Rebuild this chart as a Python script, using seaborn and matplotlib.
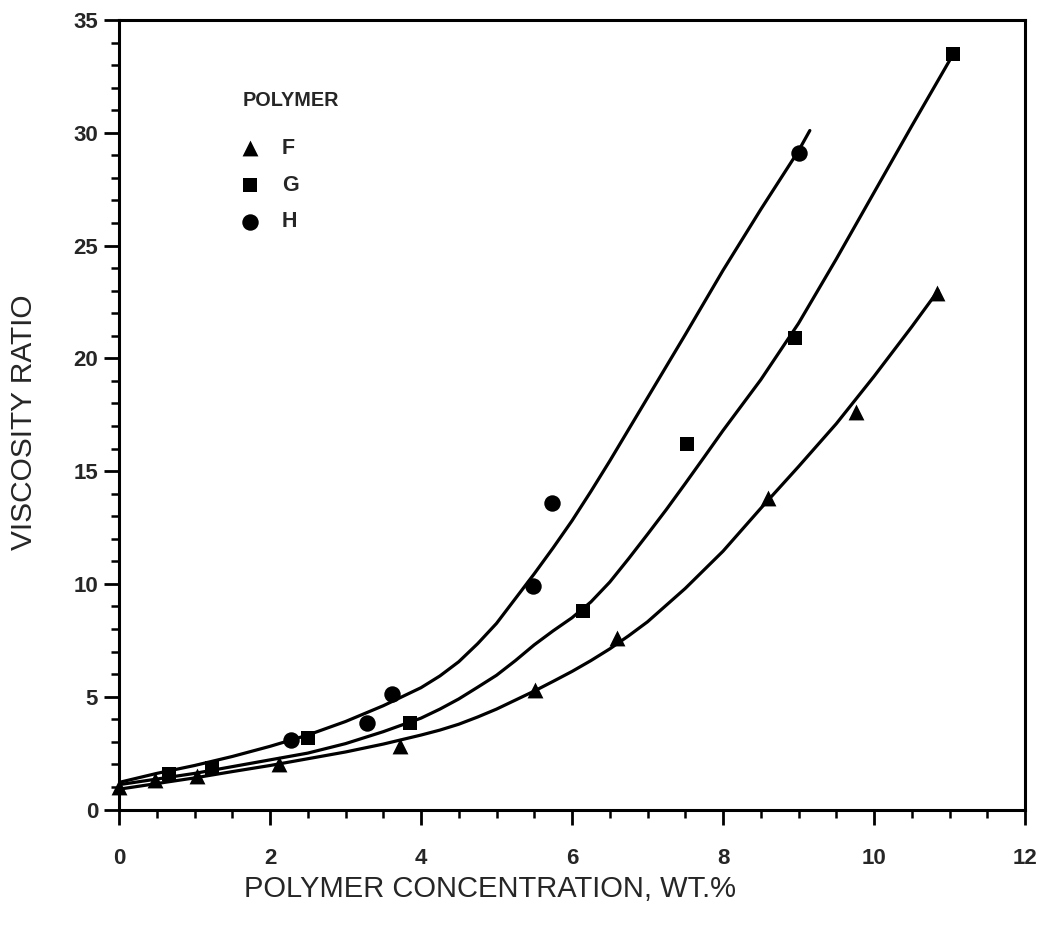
import numpy as np
import pandas as pd
import matplotlib
matplotlib.use("Agg")
import matplotlib.pyplot as plt
import seaborn as sns
from matplotlib.ticker import MultipleLocator

# ---------------- data ----------------
F_x = [0.0, 0.48, 1.03, 2.12, 3.72, 5.51, 6.6, 8.6, 9.76, 10.83]
F_y = [1.0, 1.3, 1.5, 2.0, 2.8, 5.3, 7.6, 13.8, 17.6, 22.9]

G_x = [0.66, 1.23, 2.5, 3.85, 6.15, 7.52, 8.95, 11.05]
G_y = [1.57, 1.83, 3.16, 3.83, 8.8, 16.2, 20.9, 33.5]

H_x = [2.28, 3.29, 3.62, 5.49, 5.74, 9.0]
H_y = [3.1, 3.83, 5.1, 9.9, 13.6, 29.1]

# fitted curves drawn in the reference
F_curve_x = [0, 0.5, 1, 1.5, 2, 2.5, 3, 3.5, 4, 4.25, 4.5, 4.75, 5, 5.25, 5.5, 5.75,
             6, 6.25, 6.5, 6.75, 7, 7.5, 8, 8.5, 9, 9.5, 10, 10.5, 10.85]
F_curve_y = [0.9, 1.15, 1.4, 1.68, 1.95, 2.25, 2.55, 2.9, 3.3, 3.52, 3.78, 4.1, 4.45, 4.85, 5.25, 5.68,
             6.12, 6.6, 7.12, 7.7, 8.32, 9.8, 11.45, 13.35, 15.2, 17.1, 19.2, 21.4, 23.0]

G_curve_x = [0, 0.5, 1, 1.5, 2, 2.5, 3, 3.5, 4, 4.25, 4.5, 4.75, 5, 5.25, 5.5, 5.75,
             6, 6.25, 6.5, 6.75, 7, 7.25, 7.5, 7.75, 8, 8.5, 9, 9.5, 10, 10.5, 11, 11.05]
G_curve_y = [1.1, 1.35, 1.6, 1.9, 2.2, 2.5, 2.92, 3.45, 4.05, 4.45, 4.9, 5.42, 5.95, 6.6, 7.3, 7.92,
             8.5, 9.2, 10.08, 11.12, 12.2, 13.3, 14.45, 15.62, 16.8, 19.05, 21.55, 24.4, 27.35, 30.3, 33.2, 33.5]

H_curve_x = [0, 0.5, 1, 1.5, 2, 2.5, 3, 3.5, 4, 4.25, 4.5, 4.75, 5, 5.25, 5.5, 5.75,
             6, 6.25, 6.5, 7, 7.5, 8, 8.5, 9, 9.15]
H_curve_y = [1.2, 1.6, 1.95, 2.35, 2.8, 3.3, 3.9, 4.6, 5.4, 5.92, 6.55, 7.35, 8.25, 9.35, 10.45, 11.6,
             12.8, 14.1, 15.45, 18.25, 21.05, 23.9, 26.6, 29.2, 30.1]

x_ticks = [0, 2, 4, 6, 8, 10, 12]
y_ticks = [0, 5, 10, 15, 20, 25, 30, 35]

# ---------------- plotting ----------------
sns.set_theme(style="ticks")
plt.rcParams["font.family"] = ["Liberation Sans", "DejaVu Sans"]

fig = plt.figure(figsize=(10.45, 9.32), dpi=100)
ax = fig.add_axes([119 / 1045, 122.5 / 932, 906 / 1045, 789.5 / 932])

for cx, cy in [(F_curve_x, F_curve_y), (G_curve_x, G_curve_y), (H_curve_x, H_curve_y)]:
    sns.lineplot(x=cx, y=cy, ax=ax, color="black", linewidth=2.3, sort=False,
                 estimator=None, legend=False)

sns.scatterplot(x=F_x, y=F_y, ax=ax, marker="^", color="black", s=130,
                edgecolor="black", linewidth=0, label="F", zorder=5, clip_on=False)
sns.scatterplot(x=G_x, y=G_y, ax=ax, marker="s", color="black", s=90,
                edgecolor="black", linewidth=0, label="G", zorder=5, clip_on=False)
sns.scatterplot(x=H_x, y=H_y, ax=ax, marker="o", color="black", s=140,
                edgecolor="black", linewidth=0, label="H", zorder=5, clip_on=False)

ax.set_xlim(0, 12)
ax.set_ylim(0, 35)
ax.set_xticks(x_ticks)
ax.set_yticks(y_ticks)
ax.xaxis.set_minor_locator(MultipleLocator(0.5))
ax.yaxis.set_minor_locator(MultipleLocator(1))
ax.tick_params(axis="both", which="major", direction="out", length=11, width=2,
               color="black", labelsize=16)
ax.tick_params(axis="x", which="major", pad=17)
ax.tick_params(axis="y", which="major", pad=4)
ax.tick_params(axis="both", which="minor", direction="out", length=6, width=1.8,
               color="black")
for lab in ax.get_xticklabels() + ax.get_yticklabels():
    lab.set_fontweight("bold")

for sp in ax.spines.values():
    sp.set_visible(True)
    sp.set_linewidth(2.2)
    sp.set_color("black")

ax.set_xlabel("POLYMER CONCENTRATION, WT.%", fontsize=21)
ax.set_ylabel("VISCOSITY RATIO", fontsize=21.5)
ax.xaxis.set_label_coords(0.41, -0.083)
ax.yaxis.set_label_coords(-0.089, 0.491)

ax.text(0.1365, 0.8985, "POLYMER", transform=ax.transAxes, fontsize=14.3,
        fontweight="bold", ha="left", va="center")
leg = ax.legend(loc="upper left", bbox_to_anchor=(0.1325, 0.851), frameon=False,
                fontsize=15.5, handletextpad=1.0, handlelength=1.0, labelspacing=0.74,
                borderaxespad=0, borderpad=0)
for t in leg.get_texts():
    t.set_fontweight("bold")

ax.set_facecolor("white")
fig.patch.set_facecolor("white")
fig.savefig("out.png", dpi=100, facecolor="white")
